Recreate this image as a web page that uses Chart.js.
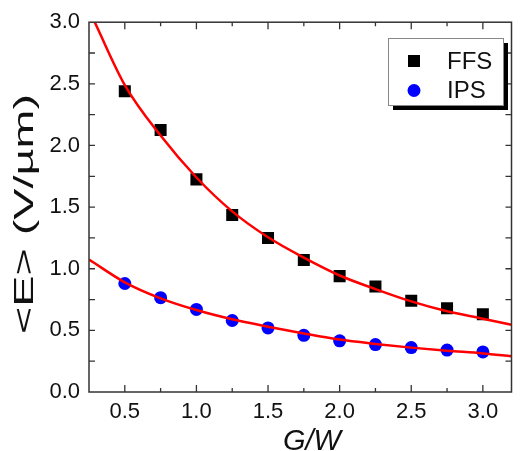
<!DOCTYPE html>
<html>
<head>
<meta charset="utf-8">
<script src="https://cdn.jsdelivr.net/npm/chart.js@4.4.0/dist/chart.umd.min.js"></script>
<style>
  html, body { margin: 0; padding: 0; background: #fff; }
  #wrap { width: 520px; height: 451px; }
</style>
</head>
<body>
<div id="wrap"><canvas id="chart1"></canvas></div>
<script>
// measured points
var gw = [0.5, 0.75, 1.0, 1.25, 1.5, 1.75, 2.0, 2.25, 2.5, 2.75, 3.0];
var ffs = [2.44, 2.125, 1.725, 1.435, 1.25, 1.07, 0.94, 0.855, 0.74, 0.68, 0.63];
var ips = [0.88, 0.765, 0.67, 0.58, 0.52, 0.46, 0.415, 0.385, 0.36, 0.34, 0.325];

// fitted curves
var fitFfsX = [0.29, 0.5, 0.75, 1.0, 1.25, 1.5, 1.75, 2.0, 2.25, 2.5, 2.75, 3.0, 3.2];
var fitFfsY = [3.0, 2.49, 2.08, 1.74, 1.465, 1.255, 1.09, 0.945, 0.835, 0.735, 0.655, 0.595, 0.545];
var fitIpsX = [0.25, 0.5, 0.75, 1.0, 1.25, 1.5, 1.75, 2.0, 2.25, 2.5, 2.75, 3.0, 3.2];
var fitIpsY = [1.075, 0.89, 0.76, 0.665, 0.59, 0.53, 0.475, 0.425, 0.39, 0.36, 0.335, 0.313, 0.29];

var xTicks = [0.5, 1.0, 1.5, 2.0, 2.5, 3.0];
var yTicks = [0.0, 0.5, 1.0, 1.5, 2.0, 2.5, 3.0];

function pts(xs, ys) {
    return xs.map(function (x, i) { return { x: x, y: ys[i] }; });
}

var tickFont = { family: 'Liberation Sans', size: 22 };

// frame, inward ticks, axis titles, legend
var frame = {
    id: 'frame',
    afterDraw: function (chart) {
        let ctx = chart.ctx;
        let a = chart.chartArea;
        let xs = chart.scales.x, ys = chart.scales.y;
        ctx.save();
        ctx.strokeStyle = '#333';
        ctx.lineWidth = 1.5;
        ctx.strokeRect(a.left, a.top, a.right - a.left, a.bottom - a.top);

        ctx.lineWidth = 1.3;
        ctx.beginPath();
        for (let v = 0.25; v <= 3.2001; v += 0.25) {
            let major = Math.abs(v * 2 - Math.round(v * 2)) < 1e-6;
            let len = major ? 7 : 4;
            let px = xs.getPixelForValue(v);
            if (px <= a.left + 1) continue;
            ctx.moveTo(px, a.bottom); ctx.lineTo(px, a.bottom - len);
            ctx.moveTo(px, a.top); ctx.lineTo(px, a.top + len);
        }
        for (let v = 0.25; v < 3.0; v += 0.25) {
            let py = ys.getPixelForValue(v);
            ctx.moveTo(a.left, py); ctx.lineTo(a.left + 6, py);
            ctx.moveTo(a.right, py); ctx.lineTo(a.right - 6, py);
        }
        ctx.stroke();

        // axis titles
        ctx.fillStyle = '#111';
        ctx.font = 'italic 29px "Liberation Sans"';
        ctx.textAlign = 'center';
        ctx.textBaseline = 'alphabetic';
        ctx.fillText('G/W', 312, 450);
        ctx.save();
        ctx.translate(33, 214);
        ctx.rotate(-Math.PI / 2);
        ctx.font = '27px "Liberation Sans"';
        let yt = '<E> (V/\u00b5m)';
        let w = ctx.measureText(yt).width;
        ctx.scale(240 / w, 1);
        ctx.fillText(yt, 0, 0);
        ctx.restore();

        // legend box with shadow
        ctx.fillStyle = '#000';
        ctx.fillRect(393, 43, 115, 67);
        ctx.fillStyle = '#fff';
        ctx.fillRect(388, 38, 115, 67);
        ctx.strokeStyle = '#888';
        ctx.lineWidth = 1;
        ctx.strokeRect(388.5, 38.5, 115, 67);
        let items = chart.data.datasets.filter(function (d) { return d.inLegend; });
        items.forEach(function (d, i) {
            let cy = 61 + i * 29.5;
            ctx.fillStyle = d.backgroundColor;
            if (d.pointStyle === 'rect') {
                ctx.fillRect(414 - 6, cy - 6, 12, 12);
            } else {
                ctx.beginPath();
                ctx.arc(414, cy, 6.5, 0, Math.PI * 2);
                ctx.fill();
            }
            ctx.fillStyle = '#111';
            ctx.font = '24px "Liberation Sans"';
            ctx.textAlign = 'left';
            ctx.textBaseline = 'middle';
            ctx.fillText(d.label, 447, cy + 1);
        });
        ctx.restore();
    }
};

let ctx = document.getElementById('chart1');

var fieldChart = new Chart(ctx, {
    type: 'scatter',
    data: {
        datasets: [{
            label: 'FFS',
            inLegend: true,
            data: pts(gw, ffs),
            pointStyle: 'rect',
            pointRadius: 8.5,
            backgroundColor: '#000000',
            borderColor: '#000000',
            borderWidth: 0,
            order: 2
        }, {
            label: 'IPS',
            inLegend: true,
            data: pts(gw, ips),
            pointStyle: 'circle',
            pointRadius: 6.5,
            backgroundColor: '#0000ff',
            borderColor: '#0000ff',
            borderWidth: 0,
            order: 2
        }, {
            label: 'FFS fit',
            type: 'line',
            data: pts(fitFfsX, fitFfsY),
            showLine: true,
            borderColor: '#ff0000',
            borderWidth: 2.5,
            pointRadius: 0,
            cubicInterpolationMode: 'monotone',
            fill: false,
            order: 1
        }, {
            label: 'IPS fit',
            type: 'line',
            data: pts(fitIpsX, fitIpsY),
            showLine: true,
            borderColor: '#ff0000',
            borderWidth: 2.5,
            pointRadius: 0,
            cubicInterpolationMode: 'monotone',
            fill: false,
            order: 1
        }]
    },
    options: {
        responsive: true,
        maintainAspectRatio: false,
        animation: false,
        layout: { padding: { top: 22, right: 0, left: 0, bottom: 0 } },
        plugins: {
            legend: { display: false },
            tooltip: { enabled: false }
        },
        scales: {
            x: {
                type: 'linear',
                min: 0.25,
                max: 3.2,
                grid: { display: false, drawTicks: false },
                border: { display: false },
                afterBuildTicks: function (s) {
                    s.ticks = xTicks.map(function (v) { return { value: v }; });
                },
                afterFit: function (s) { s.height = 59; },
                ticks: {
                    font: tickFont,
                    color: '#111',
                    padding: 7,
                    maxRotation: 0,
                    callback: function (v) { return v.toFixed(1); }
                }
            },
            y: {
                min: 0,
                max: 3.0,
                grid: { display: false, drawTicks: false },
                border: { display: false },
                afterBuildTicks: function (s) {
                    s.ticks = yTicks.map(function (v) { return { value: v }; });
                },
                afterFit: function (s) { s.width = 89; },
                ticks: {
                    font: tickFont,
                    color: '#111',
                    padding: 9,
                    callback: function (v) { return v.toFixed(1); }
                }
            }
        }
    },
    plugins: [frame]
});
</script>
</body>
</html>
